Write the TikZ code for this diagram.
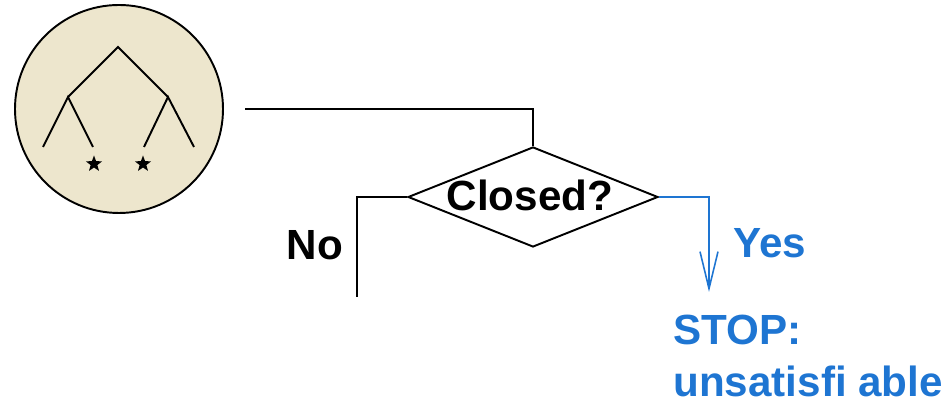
\documentclass[tikz,border=0pt]{standalone}
\usepackage{fontspec}
\setmainfont{Liberation Sans}
\usetikzlibrary{shapes.geometric,% diamond and star shapes
arrows.meta}
\definecolor{tanfill}{RGB}{237,230,205}
\definecolor{yesblue}{RGB}{30,117,210}
\tikzset{every node/.style={font=\fontsize{24}{30}\selectfont\bfseries},
  flow/.style={line width=1.1pt},
  decision/.style={diamond, draw, flow, inner sep=0pt, minimum width=5cm, minimum height=2cm},
  leafmark/.style={star, star points=5, star point ratio=2.4, fill, inner sep=0pt, minimum size=0.34cm}}

\begin{document}
\begin{tikzpicture}
    \useasboundingbox (0,0) rectangle (19.02,8.12);
    % tableau in a disc
    \node[circle, draw, flow, fill=tanfill, minimum size=4.16cm] (tableau) at (2.38,5.94) {};
    \draw[flow] (1.36,6.18) -- (2.36,7.18) -- (3.36,6.18);
    \draw[flow] (0.86,5.18) -- (1.36,6.18) -- (1.86,5.18);
    \draw[flow] (2.88,5.18) -- (3.36,6.18) -- (3.88,5.18);
    \node[leafmark] (star1) at (1.88,4.84) {};
    \node[leafmark] (star2) at (2.86,4.84) {};
    % the test
    \node[decision] (closed) at (10.66,4.18) {};
    \node at (10.6,4.22) {Closed?};
    \coordinate (start) at (4.9,5.94);
    \draw[flow] (start) -| (closed.north);
    % no branch
    \coordinate (noend) at (7.14,2.18);
    \draw[flow] (closed.west) -| (noend);
    \node (no) at (6.3,3.22) {No};
    % yes branch
    \coordinate (tip) at (14.18,2.28);
    \begin{scope}[yesblue]
      \draw[line width=0.9pt, -{Straight Barb[length=0.74cm, width=0.36cm]}] (closed.east) -| (tip);
      \node (yes) at (15.4,3.26) {Yes};
      \node[anchor=west, align=left, inner sep=0pt] (stop) at (13.46,1.0) {STOP:\\unsatisfi able};
    \end{scope}
  \end{tikzpicture}
\end{document}
